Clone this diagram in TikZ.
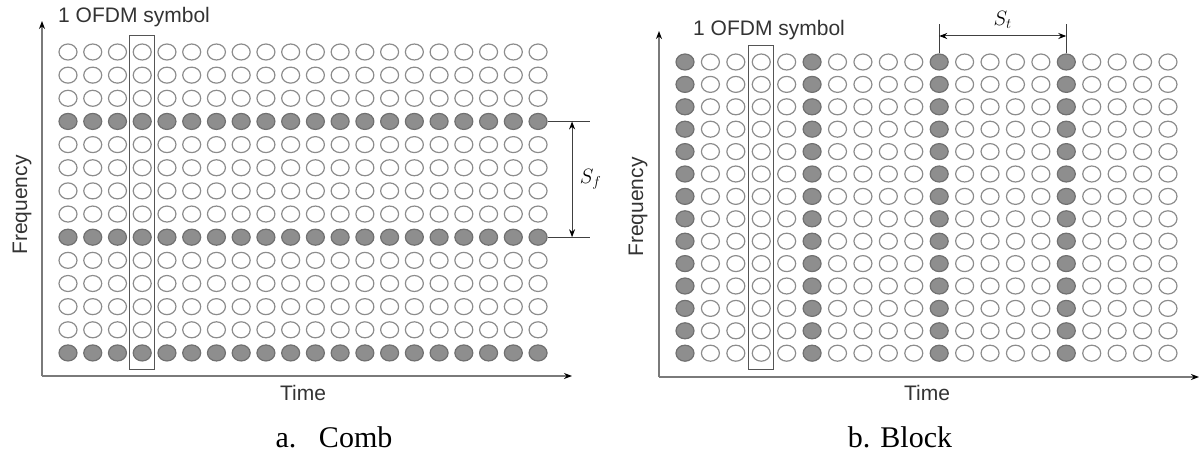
\documentclass[tikz,border=0pt]{standalone}
\usepackage{fontspec}
\setmainfont{Liberation Serif}
\setsansfont{Liberation Sans}
\usetikzlibrary{shapes.geometric,fit,arrows.meta}

\definecolor{ringgray}{HTML}{8C8C8C}
\definecolor{pilotgray}{HTML}{8E8E8E}
\definecolor{pilotedge}{HTML}{707070}
\definecolor{axisgray}{HTML}{7A7A7A}
\definecolor{boxgray}{HTML}{555555}
\definecolor{textgray}{HTML}{333333}

\tikzset{
	data/.style={ellipse,draw=ringgray,line width=1.2pt,minimum width=18pt,minimum height=16pt,inner sep=0pt},
	pilot/.style={data,draw=pilotedge,fill=pilotgray},
	symbox/.style={draw=boxgray,line width=1pt,inner xsep=3pt,inner ysep=7.5pt},
	tip/.tip={Stealth[black,length=8pt,width=6pt]},
	axis/.style={draw=axisgray,line width=1.3pt,-tip},
	bar/.style={draw=black!75,line width=1pt},
	lbl/.style={font=\sffamily\fontsize{21}{24}\selectfont,text=textgray,inner sep=0pt},
	captxt/.style={font=\fontsize{30}{34}\selectfont,inner sep=0pt,anchor=base}
}

\begin{document}
\begin{tikzpicture}[x=1pt,y=-1pt]
	\useasboundingbox (0,0) rectangle (1202,452);

	% a. comb
	\coordinate (o1) at (42,376);
	\coordinate (f1) at (42,21);
	\coordinate (t1) at (572,376);
	\draw[axis] (o1)--(f1);
	\draw[axis] (o1)--(t1);

	\foreach \c in {0,...,19}
		\foreach \r in {0,...,13}{
			\def\sty{data}
			\ifnum\r=3 \def\sty{pilot}\fi
			\ifnum\r=8 \def\sty{pilot}\fi
			\ifnum\r=13 \def\sty{pilot}\fi
			\node[\sty] (a-\c-\r) at (68+24.74*\c,52+23.15*\r) {};
		}
	\node[symbox,fit=(a-3-0)(a-3-13)] (sym1) {};

	\node[lbl,anchor=west] (sym1lbl) at (58,17) {1 OFDM symbol};
	\node[lbl,rotate=90] (freq1) at (22,205) {Frequency};
	\node[lbl] (time1) at (303,393) {Time};
	\node[captxt] (cap1) at (334,447) {a.\hspace{0.75em}Comb};

	\path (a-19-3) ++(52,0) coordinate (sf1) ++(-18,0) coordinate (sfa);
	\path (a-19-8) ++(52,0) coordinate (sf2) ++(-18,0) coordinate (sfb);
	\draw[bar] (a-19-3.east)--(sf1);
	\draw[bar] (a-19-8.east)--(sf2);
	\draw[bar,tip-tip] (sfa)--(sfb) node[midway,right=4pt,font=\fontsize{22}{24}\selectfont] {$S_f$};

	% b. block
	\coordinate (o2) at (659,377);
	\coordinate (f2) at (659,31);
	\coordinate (t2) at (1199,377);
	\draw[axis] (o2)--(f2);
	\draw[axis] (o2)--(t2);

	\foreach \c in {0,...,19}
		\foreach \r in {0,...,13}{
			\pgfmathtruncatemacro\m{mod(\c,5)}
			\def\sty{data}
			\ifnum\m=0 \def\sty{pilot}\fi
			\node[\sty] (b-\c-\r) at (685+25.42*\c,62+22.4*\r) {};
		}
	\node[symbox,fit=(b-3-0)(b-3-13)] (sym2) {};

	\node[lbl,anchor=west] (sym2lbl) at (693,30) {1 OFDM symbol};
	\node[lbl,rotate=90] (freq2) at (638,207) {Frequency};
	\node[lbl] (time2) at (927,393) {Time};
	\node[captxt] (cap2) at (900,447) {b. Block};

	\path (b-10-0.north) ++(0,-29) coordinate (st1);
	\path (b-15-0.north) ++(0,-29) coordinate (st2);
	\path (b-10-0) ++(0,-26) coordinate (sta);
	\path (b-15-0) ++(0,-26) coordinate (stb);
	\draw[bar] (b-10-0.north)--(st1);
	\draw[bar] (b-15-0.north)--(st2);
	\draw[bar,tip-tip] (sta)--(stb) node[midway,above=4pt,font=\fontsize{22}{24}\selectfont] {$S_t$};
\end{tikzpicture}
\end{document}
